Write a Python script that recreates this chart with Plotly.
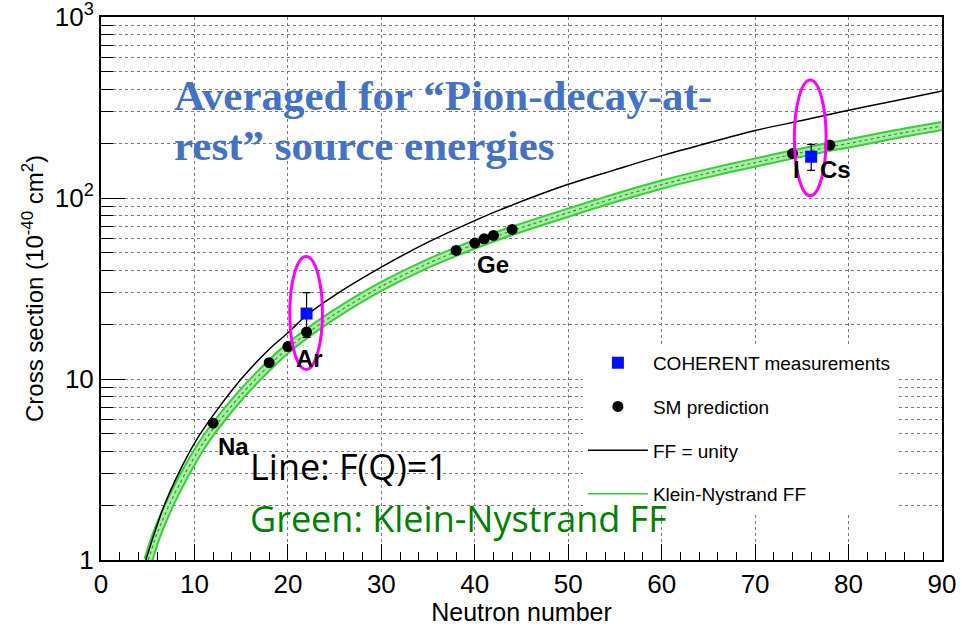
import plotly.graph_objects as go

# ---------------- data ----------------
# FF = unity curve (black)
ff1_N = [4.8, 5.5, 6.66, 8, 10.2, 12, 15, 18, 20, 22, 25, 30, 35, 40, 42.7,
         50, 55, 60.1, 64.1, 70, 75, 79, 85, 90]
ff1_xs = [1.0, 1.3, 1.94, 2.8, 4.6, 6.3, 10.0, 14.6, 18.0, 22.5, 29, 41.5, 57, 75, 86,
          119, 143, 172, 196, 236, 268, 298, 345, 390]

# Klein-Nystrand FF curve (green band)
kn_N = [5.06, 6, 7.27, 9, 10.77, 12, 15, 18, 20, 22, 25, 30, 35, 38, 40, 42.7, 44,
        50, 55, 60.1, 64.1, 70, 74, 78, 80, 85, 90]
kn_xs = [1.0, 1.4, 2.0, 3.0, 4.3, 5.3, 8.2, 11.9, 14.8, 17.8, 22.8, 32.5, 43.5, 50.5,
         55.5, 62.5, 66, 83, 100, 119, 134, 157, 174, 192, 200, 225, 250]

# SM predictions (black dots)
sm_N = [12, 18, 20, 22, 38, 40, 41, 42, 44, 74, 78]
sm_xs = [5.7, 12.3, 15.1, 18.2, 51.3, 56.4, 59.5, 62.1, 67.0, 176, 196]

# COHERENT measurements (blue squares)
coh_N = [22, 76]
coh_xs = [23, 169]
coh_err_up = [7, 29]
coh_err_dn = [6, 27]

x_tickvals = [0, 10, 20, 30, 40, 50, 60, 70, 80, 90]
y_tickvals = [1, 10, 100, 1000]
y_ticktext = ["1", "10", "10<sup>2</sup>", "10<sup>3</sup>"]
y_minor = [2, 3, 4, 5, 6, 7, 8, 9, 20, 30, 40, 50, 60, 70, 80, 90,
           200, 300, 400, 500, 600, 700, 800, 900]

# ---------------- figure ----------------
fig = go.Figure()

# green band: layered lines
for w, c, d in [(10, "#38cf38", "solid"), (6, "#a9eca6", "solid"), (1.2, "#2a9a2a", "dot")]:
    fig.add_trace(go.Scatter(x=kn_N, y=kn_xs, mode="lines",
                             line=dict(color=c, width=w, dash=d, shape="spline", smoothing=0.8),
                             showlegend=False, hoverinfo="skip"))

fig.add_trace(go.Scatter(x=ff1_N, y=ff1_xs, mode="lines",
                         line=dict(color="black", width=1.5, shape="spline", smoothing=0.8),
                         showlegend=False, hoverinfo="skip"))

fig.add_trace(go.Scatter(x=sm_N, y=sm_xs, mode="markers", name="SM prediction",
                         marker=dict(color="black", size=11, symbol="circle"),
                         legendgroup="b", legendrank=2))

fig.add_trace(go.Scatter(x=coh_N, y=coh_xs, mode="markers", name="COHERENT measurements",
                         marker=dict(color="#0010ff", size=12, symbol="square"),
                         error_y=dict(type="data", symmetric=False, array=coh_err_up,
                                      arrayminus=coh_err_dn, color="black",
                                      thickness=1.2, width=4),
                         legendgroup="a", legendrank=1))

fig.add_trace(go.Scatter(x=[None], y=[None], mode="lines", name="FF = unity",
                         line=dict(color="black", width=1.5),
                         legendgroup="c", legendrank=3))
fig.add_trace(go.Scatter(x=[None], y=[None], mode="lines", name="Klein-Nystrand FF",
                         line=dict(color="#33cc33", width=1.5),
                         legendgroup="d", legendrank=4))

# ellipses (magenta) -- shapes on log axis take data values
fig.add_shape(type="circle", xref="x", yref="y", x0=20.2, x1=23.7, y0=11.3, y1=47.5,
              line=dict(color="#ff00ff", width=3))
fig.add_shape(type="circle", xref="x", yref="y", x0=74.2, x1=77.6, y0=103, y1=448,
              line=dict(color="#ff00ff", width=3))

# element labels (annotation y on log axis is log10 value)
lab_font = dict(family="Liberation Sans, Arial", size=24, color="black")
for txt, xx, yy in [("<b>Na</b>", 14.2, 0.627), ("<b>Ar</b>", 22.35, 1.113),
                    ("<b>Ge</b>", 42.0, 1.633), ("<b>I</b>", 74.4, 2.157),
                    ("<b>Cs</b>", 78.6, 2.157)]:
    fig.add_annotation(x=xx, y=yy, xref="x", yref="y", text=txt, showarrow=False,
                       font=lab_font, xanchor="center", yanchor="middle")

# text overlays
serif = dict(family="Liberation Serif, Times New Roman", size=43, color="#4472C4")
fig.add_annotation(xref="paper", yref="paper", x=0.0845, y=0.855, xanchor="left",
                   yanchor="middle", align="left", showarrow=False,
                   text="<b>Averaged for \u201cPion-decay-at-</b>", font=serif)
fig.add_annotation(xref="paper", yref="paper", x=0.0845, y=0.763, xanchor="left",
                   yanchor="middle", align="left", showarrow=False,
                   text="<b>rest\u201d source energies</b>", font=serif)
fig.add_annotation(xref="paper", yref="paper", x=0.1748, y=0.172, xanchor="left",
                   yanchor="middle", showarrow=False, text="Line: F(Q)=1",
                   font=dict(family="Open Sans", size=36, color="black"))
fig.add_annotation(xref="paper", yref="paper", x=0.1748, y=0.0773, xanchor="left",
                   yanchor="middle", showarrow=False, text="Green: Klein-Nystrand FF",
                   font=dict(family="Open Sans", size=36, color="#008000"))

grid_col = "#7a7a7a"
fig.update_layout(
    width=962, height=626,
    margin=dict(l=101, r=20, t=17, b=66, autoexpand=False),
    paper_bgcolor="white", plot_bgcolor="white",
    font=dict(family="Liberation Sans, Arial", color="black"),
    legend=dict(x=0.573, y=0.398, xanchor="left", yanchor="top",
                bgcolor="white", borderwidth=0, itemwidth=60,
                tracegroupgap=16, font=dict(size=19, family="Liberation Sans, Arial")),
    xaxis=dict(range=[0, 90], tickmode="array", tickvals=x_tickvals,
               ticks="inside", ticklen=16, tickwidth=1, tickcolor="black",
               showline=True, mirror=True, linecolor="black", linewidth=2,
               showgrid=True, gridcolor=grid_col, griddash="dot", gridwidth=1,
               zeroline=False, automargin=False, ticklabeloverflow="allow",
               minor=dict(dtick=2, ticks="inside", ticklen=8, tickcolor="black",
                          showgrid=False),
               tickfont=dict(size=26),
               title=dict(text="Neutron number", font=dict(size=25), standoff=6)),
    yaxis=dict(type="log", range=[0, 3], tickmode="array", tickvals=y_tickvals,
               ticktext=y_ticktext, ticks="inside", ticklen=24, tickwidth=1,
               tickcolor="black", showline=True, mirror=True, linecolor="black",
               linewidth=2, showgrid=True, gridcolor=grid_col, griddash="dot",
               gridwidth=1, zeroline=False, automargin=False, ticklabeloverflow="allow",
               minor=dict(tickmode="array", tickvals=y_minor, ticks="inside",
                          ticklen=12, tickcolor="black", showgrid=True,
                          gridcolor=grid_col, griddash="dot", gridwidth=1),
               tickfont=dict(size=26),
               title=dict(text="Cross section (10<sup>-40</sup> cm<sup>2</sup>)",
                          font=dict(size=24), standoff=4)),
)

fig.write_html("out.html")
